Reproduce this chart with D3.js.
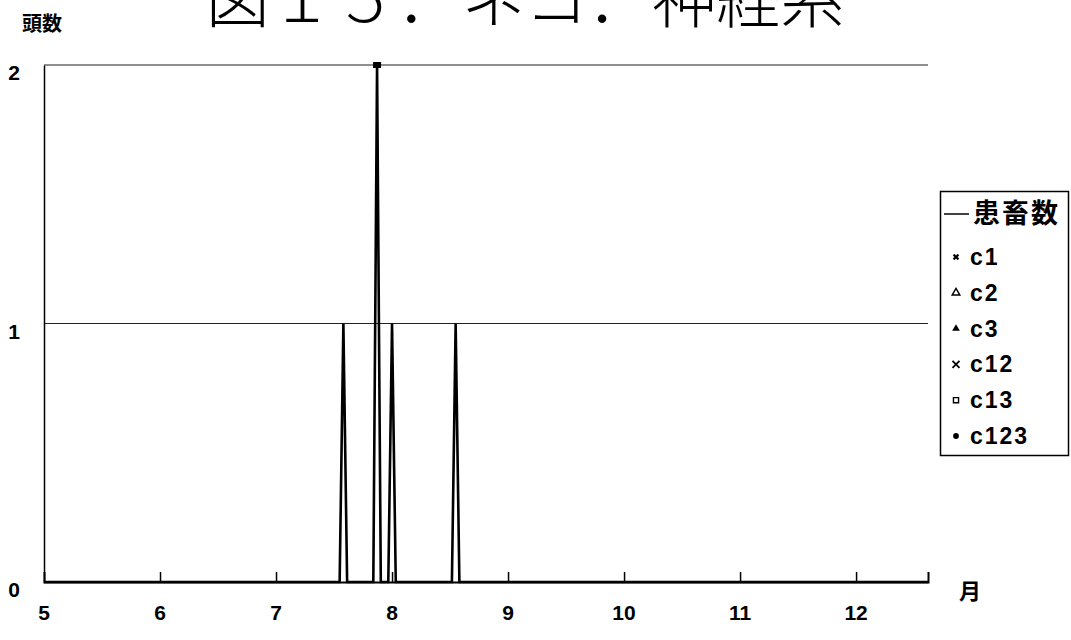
<!DOCTYPE html>
<html>
<head>
<meta charset="utf-8">
<script src="https://cdn.jsdelivr.net/npm/d3@7"></script>
<style>
  html, body { margin: 0; padding: 0; background: #fff; }
  svg { display: block; }
  .num { font-family: "Liberation Sans", Arial, sans-serif; font-weight: bold; }
  .jp { font-family: "Noto Sans CJK JP", sans-serif; }
</style>
</head>
<body>
<svg id="chart" width="1071" height="640"></svg>
<script>
// Daily counts of affected animals (month, day, count)
const caseMonths = [7, 7, 8, 8];
const caseDays   = [19, 28, 1, 18];
const caseCounts = [1, 2, 1, 1];
// Category markers at the case peaks
const markerSeries = ["c123"];
const markerMonths = [7];
const markerDays   = [28];
const markerValues = [2];

const xTicks = [5, 6, 7, 8, 9, 10, 11, 12];
const yTicks = [0, 1, 2];
const xStart = 5, xEnd = 12.62;
const legendItems = ["患畜数", "c1", "c2", "c3", "c12", "c13", "c123"];

const daysIn = m => new Date(2001, m, 0).getDate();
const monthPos = (m, d) => m + (d - 1) / daysIn(m);

const svg = d3.select("#chart");
const margin = { left: 44, right: 143, top: 65, bottom: 58 };
const W = 1071, H = 640;

const x = d3.scaleLinear().domain([xStart, xEnd]).range([margin.left, W - margin.right]);
const y = d3.scaleLinear().domain([0, 2]).range([H - margin.bottom, margin.top]);

// Horizontal gridlines
svg.append("g").selectAll("line").data(yTicks.filter(v => v > 0)).join("line")
  .attr("x1", x(xStart)).attr("x2", x(xEnd))
  .attr("y1", d => y(d)).attr("y2", d => y(d))
  .attr("stroke", "#222").attr("stroke-width", 1.2);

// Axes
const xAxis = d3.axisBottom(x).tickValues(xTicks).tickSize(-10).tickFormat("");
const gx = svg.append("g").attr("transform", `translate(0,${y(0)})`).call(xAxis);
gx.select(".domain").attr("stroke", "#000").attr("stroke-width", 2);
gx.selectAll(".tick line").attr("stroke", "#000").attr("stroke-width", 1.5);
gx.selectAll(".tick").filter(d => d === xStart).remove();

const yAxis = d3.axisLeft(y).tickValues(yTicks).tickSize(0).tickFormat("");
const gy = svg.append("g").attr("transform", `translate(${x(xStart)},0)`).call(yAxis);
gy.select(".domain").attr("stroke", "#000").attr("stroke-width", 1.5);

// Tick labels
svg.append("g").selectAll("text").data(xTicks).join("text")
  .attr("class", "num")
  .attr("x", d => x(d)).attr("y", 620)
  .attr("text-anchor", "middle").attr("font-size", 21)
  .text(d => d);
svg.append("g").selectAll("text").data(yTicks).join("text")
  .attr("class", "num")
  .attr("x", 14).attr("y", d => y(d) + 15)
  .attr("text-anchor", "middle").attr("font-size", 21)
  .text(d => d);

// Axis titles and chart title
svg.append("text").attr("class", "jp").attr("x", 22).attr("y", 31)
  .attr("font-size", 20).attr("font-weight", "bold").text("頭数");
svg.append("text").attr("class", "jp").attr("x", 959).attr("y", 599)
  .attr("font-size", 22).attr("font-weight", "bold").text("月");
svg.append("text").attr("class", "jp").attr("x", 525).attr("y", 22)
  .attr("text-anchor", "middle").attr("font-size", 64).attr("font-weight", 300)
  .text("図１５．ネコ．神経系");

// Case line: zero baseline with a one-day spike for each case day
const pts = [{ t: xStart, v: 0 }];
caseMonths.forEach((m, i) => {
  const t = monthPos(m, caseDays[i]);
  const step = 1 / daysIn(m);
  pts.push({ t: t - step, v: 0 }, { t: t, v: caseCounts[i] }, { t: t + step, v: 0 });
});
pts.push({ t: xEnd, v: 0 });
pts.sort((a, b) => a.t - b.t);

svg.append("path").datum(pts)
  .attr("fill", "none").attr("stroke", "#000").attr("stroke-width", 2.6)
  .attr("stroke-linejoin", "miter")
  .attr("d", d3.line().x(d => x(d.t)).y(d => y(d.v)));

// Category markers
svg.append("g").selectAll("rect").data(markerSeries).join("rect")
  .attr("x", (d, i) => x(monthPos(markerMonths[i], markerDays[i])) - 4)
  .attr("y", (d, i) => y(markerValues[i]) - 3)
  .attr("width", 8).attr("height", 6).attr("fill", "#000");

// Legend
const lg = svg.append("g");
lg.append("rect").attr("x", 940.5).attr("y", 191.5).attr("width", 128).attr("height", 264)
  .attr("fill", "#fff").attr("stroke", "#000").attr("stroke-width", 1.5);
const rowY = i => i === 0 ? 214 : 257 + (i - 1) * 35.8;
legendItems.forEach((name, i) => {
  const cy = rowY(i);
  if (i === 0) {
    lg.append("line").attr("x1", 944).attr("x2", 969).attr("y1", cy).attr("y2", cy)
      .attr("stroke", "#000").attr("stroke-width", 1.5);
    lg.append("text").attr("class", "jp").attr("x", 973).attr("y", cy + 9)
      .attr("font-size", 27).attr("font-weight", "bold").attr("letter-spacing", 2).text(name);
  } else {
    const mx = 956;
    const sym = name === "c1" ? d3.symbolCross
      : name === "c2" ? d3.symbolTriangle
      : name === "c3" ? d3.symbolTriangle
      : name === "c12" ? d3.symbolX
      : name === "c13" ? d3.symbolSquare
      : d3.symbolCircle;
    const open = (name === "c2" || name === "c13");
    const p = lg.append("path")
      .attr("transform", `translate(${mx},${cy})` + (name === "c1" ? " rotate(45)" : ""))
      .attr("d", d3.symbol().type(sym).size(name === "c12" ? 34 : 26)());
    if (open) p.attr("fill", "#fff").attr("stroke", "#000").attr("stroke-width", 1.4);
    else if (name === "c12") p.attr("fill", "none").attr("stroke", "#000").attr("stroke-width", 1.8);
    else p.attr("fill", "#000");
    lg.append("text").attr("class", "num").attr("x", 970).attr("y", cy + 8)
      .attr("font-size", 23).attr("letter-spacing", 2).text(name);
  }
});
</script>
</body>
</html>
